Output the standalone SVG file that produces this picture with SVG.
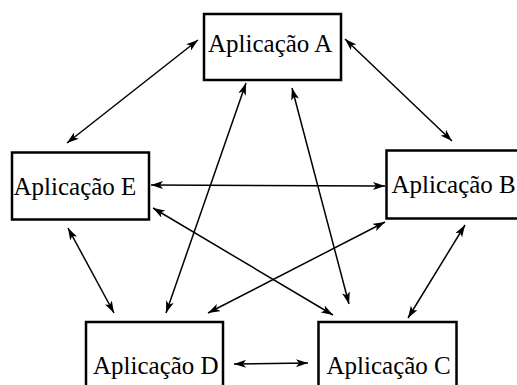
<svg xmlns="http://www.w3.org/2000/svg" width="517" height="385" viewBox="0 0 517 385">
<style>
.box{fill:#fff;stroke:#000;stroke-width:2.5}
.lbl{font-family:"Liberation Serif","Times New Roman",serif;font-size:25px;fill:#000}
.con{stroke:#000;stroke-width:1.5;fill:none;marker-start:url(#ah);marker-end:url(#ah)}
</style>
<defs>
<marker id="ah" viewBox="0 0 12 8" refX="12" refY="4" markerWidth="12" markerHeight="8" markerUnits="userSpaceOnUse" orient="auto-start-reverse">
<path d="M0,0 L12,4 L0,8 L3,4 z" fill="#000"/>
</marker>
</defs>
<rect width="517" height="385" fill="#fff"/>
<g id="connectors">
<line class="con" x1="198" y1="40" x2="67" y2="143"/>
<line class="con" x1="345" y1="39" x2="452" y2="141"/>
<line class="con" x1="151" y1="185" x2="385" y2="186"/>
<line class="con" x1="153" y1="208" x2="333" y2="315"/>
<line class="con" x1="68" y1="228" x2="114" y2="313"/>
<line class="con" x1="246" y1="83" x2="166" y2="313"/>
<line class="con" x1="292" y1="88" x2="349" y2="304"/>
<line class="con" x1="385" y1="222" x2="208" y2="313"/>
<line class="con" x1="465" y1="225" x2="408" y2="318"/>
<line class="con" x1="234" y1="364" x2="308" y2="363"/>
</g>
<g id="nodeA"><rect class="box" x="204" y="14" width="137" height="66"/><text class="lbl" x="208" y="52">Aplicação A</text></g>
<g id="nodeE"><rect class="box" x="12" y="152.5" width="137" height="67"/><text class="lbl" x="13.5" y="195">Aplicação E</text></g>
<g id="nodeB"><rect class="box" x="386.5" y="150.5" width="138" height="68"/><text class="lbl" x="391.5" y="193">Aplicação B</text></g>
<g id="nodeD"><rect class="box" x="86" y="322" width="137" height="68"/><text class="lbl" x="93" y="374">Aplicação D</text></g>
<g id="nodeC"><rect class="box" x="318.5" y="322" width="138" height="68"/><text class="lbl" x="326.5" y="374">Aplicação C</text></g>
</svg>
